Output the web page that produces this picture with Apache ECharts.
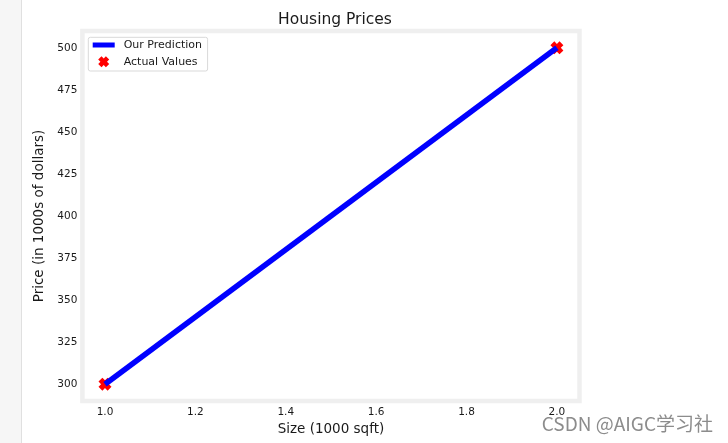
<!DOCTYPE html>
<html>
<head>
<meta charset="utf-8">
<script src="https://cdn.jsdelivr.net/npm/echarts@6/dist/echarts.min.js"></script>
<style>
html,body{margin:0;padding:0;background:#fff;}
#chart{width:728px;height:443px;}
</style>
</head>
<body>
<div id="chart"></div>
<script>
const sizes = [1.0, 2.0];
const actualPrices = [300, 500];
const predictedPrices = [300, 500];
const xTicks = [1.0, 1.2, 1.4, 1.6, 1.8, 2.0];
const yTicks = [300, 325, 350, 375, 400, 425, 450, 475, 500];

const FONT = '"DejaVu Sans", Verdana, sans-serif';
const TXT = '#1a1a1a';
const X_PATH = 'path://M0,3 L3,0 L5,2 L7,0 L10,3 L8,5 L10,7 L7,10 L5,8 L3,10 L0,7 L2,5 Z';

const chart = echarts.init(document.getElementById('chart'), null, {renderer: 'canvas'});
chart.setOption({
  animation: false,
  backgroundColor: '#ffffff',
  title: {
    text: 'Housing Prices',
    left: 330, top: 7, textAlign: 'center',
    textStyle: {fontFamily: FONT, fontSize: 15.5, fontWeight: 'normal', color: TXT}
  },
  grid: {
    left: 82.4, right: 148.5, top: 31, bottom: 42,
    show: true, borderColor: '#efefef', borderWidth: 4.5, backgroundColor: 'transparent'
  },
  legend: {
    orient: 'vertical',
    left: 88.3, top: 37.3,
    padding: [0.7, 5.6, 2.3, 4.4],
    itemGap: 2.7,
    itemWidth: 22, itemHeight: 11,
    backgroundColor: '#ffffff',
    borderColor: '#d9d9d9', borderWidth: 1, borderRadius: 2,
    textStyle: {fontFamily: FONT, fontSize: 11, color: TXT, lineHeight: 14, padding: [0, 0, 0, 4]},
    data: [
      {name: 'Our Prediction', icon: 'path://M0,0h22v5h-22z'},
      {name: 'Actual Values', icon: X_PATH, itemStyle: {opacity: 1}}
    ]
  },
  xAxis: {
    type: 'value', min: 0.95, max: 2.05,
    name: 'Size (1000 sqft)', nameLocation: 'middle', nameGap: 19,
    nameTextStyle: {fontFamily: FONT, fontSize: 13.5, color: TXT},
    axisLine: {show: false}, axisTick: {show: false}, splitLine: {show: false},
    axisLabel: {
      customValues: xTicks, margin: 6,
      fontFamily: FONT, fontSize: 10.5, color: TXT,
      formatter: v => v.toFixed(1)
    }
  },
  yAxis: {
    type: 'value', min: 290, max: 510,
    name: 'Price (in 1000s of dollars)', nameLocation: 'middle', nameGap: 30,
    nameTextStyle: {fontFamily: FONT, fontSize: 13.5, color: TXT},
    axisLine: {show: false}, axisTick: {show: false}, splitLine: {show: false},
    axisLabel: {
      customValues: yTicks, margin: 5,
      fontFamily: FONT, fontSize: 10.5, color: TXT
    }
  },
  series: [
    {
      name: 'Actual Values', type: 'scatter', z: 2,
      symbol: X_PATH, symbolSize: 13,
      itemStyle: {color: '#ff0000', opacity: 1},
      data: sizes.map((s, i) => [s, actualPrices[i]])
    },
    {
      name: 'Our Prediction', type: 'line', z: 3,
      showSymbol: false, symbol: 'none',
      lineStyle: {color: '#0000ff', width: 5.5},
      itemStyle: {color: '#0000ff'},
      data: sizes.map((s, i) => [s, predictedPrices[i]])
    }
  ],
  graphic: [
    {type: 'rect', shape: {x: 0, y: 0, width: 21, height: 443}, style: {fill: '#f6f6f6'}, z: -10, silent: true},
    {type: 'line', shape: {x1: 21.5, y1: 0, x2: 21.5, y2: 443}, style: {stroke: '#e0e0e0', lineWidth: 1}, z: -10, silent: true},
    {type: 'text', right: 15, top: 414,
      style: {text: 'CSDN @AIGC学习社', fill: '#8c8c8c', font: '19px "Noto Sans CJK SC", "Noto Sans", sans-serif'}, z: 100, silent: true}
  ]
});
</script>
</body>
</html>
